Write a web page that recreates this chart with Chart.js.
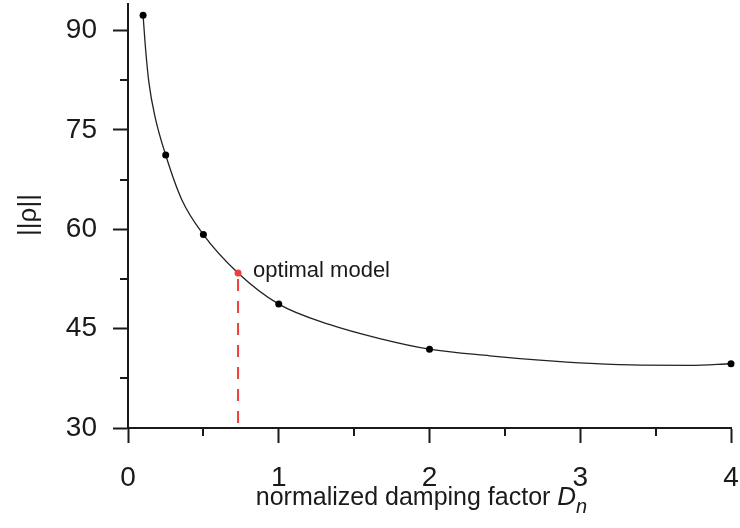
<!DOCTYPE html>
<html>
<head>
<meta charset="utf-8">
<script src="https://cdn.jsdelivr.net/npm/chart.js@4"></script>
<style>
  html, body { margin: 0; padding: 0; background: #fff; }
  canvas { display: block; }
</style>
</head>
<body>
<canvas id="c" width="740" height="528"></canvas>
<script>
// ---- data ----
const sampleX = [0.1, 0.25, 0.5, 1, 2, 4];
const sampleY = [92.3, 71.2, 59.2, 48.7, 41.9, 39.7];
const optimalX = [0.73];
const optimalY = [53.4];
const curveX = [0.1, 0.117, 0.139, 0.179, 0.25, 0.356, 0.5, 0.73, 1.0, 1.34, 1.67, 2.0, 2.4, 2.73, 3.07, 3.4, 3.73, 4.0];
const curveY = [92.3, 87.1, 82.1, 77.0, 71.2, 64.5, 59.2, 53.4, 48.7, 45.6, 43.5, 41.9, 40.9, 40.25, 39.75, 39.48, 39.45, 39.7];
const xTicks = [0, 1, 2, 3, 4];
const yTicks = [30, 45, 60, 75, 90];
const xMinor = [0.5, 1.5, 2.5, 3.5];
const yMinor = [37.5, 52.5, 67.5, 82.5];
const xRange = [0, 4];
const yRange = [30, 94];
const xTitle = 'normalized damping factor ';
const xTitleItalic = 'D';
const xTitleSub = 'n';
const yTitle = '||ρ||';
const annotation = 'optimal model';

const INK = '#1a1a1a';
const RED = '#ee3f3a';
const FONT = '"Liberation Sans", Arial, sans-serif';

const zip = (xs, ys) => xs.map((x, i) => ({ x, y: ys[i] }));

const zeroPad = s => { s.paddingTop = 0; s.paddingBottom = 0; s.paddingLeft = 0; s.paddingRight = 0; };

const extras = {
  id: 'extras',
  afterDraw(chart) {
    const { ctx, chartArea, scales } = chart;
    const xs = scales.x, ys = scales.y;
    ctx.save();
    // minor ticks
    ctx.strokeStyle = INK;
    ctx.lineWidth = 2;
    ctx.beginPath();
    yMinor.forEach(v => {
      const p = Math.round(ys.getPixelForValue(v));
      ctx.moveTo(chartArea.left - 8, p);
      ctx.lineTo(chartArea.left, p);
    });
    xMinor.forEach(v => {
      const p = Math.round(xs.getPixelForValue(v));
      ctx.moveTo(p, chartArea.bottom);
      ctx.lineTo(p, chartArea.bottom + 8);
    });
    ctx.stroke();

    // annotation
    ctx.fillStyle = INK;
    ctx.font = '22px ' + FONT;
    ctx.textAlign = 'left';
    ctx.textBaseline = 'alphabetic';
    const ox = xs.getPixelForValue(optimalX[0]);
    const oy = ys.getPixelForValue(optimalY[0]);
    ctx.fillText(annotation, ox + 15, oy + 4);

    // x title with italic D and subscript n
    const f1 = '25px ' + FONT, f2 = 'italic 26px ' + FONT, f3 = 'italic 20px ' + FONT;
    ctx.font = f1; const w1 = ctx.measureText(xTitle).width;
    ctx.font = f2; const w2 = ctx.measureText(xTitleItalic).width;
    ctx.font = f3; const w3 = ctx.measureText(xTitleSub).width;
    const total = w1 + w2 + w3;
    let tx = (chartArea.left + chartArea.right) / 2 - 8 - total / 2;
    const ty = 505;
    ctx.font = f1; ctx.fillText(xTitle, tx, ty); tx += w1;
    ctx.font = f2; ctx.fillText(xTitleItalic, tx, ty); tx += w2;
    ctx.font = f3; ctx.fillText(xTitleSub, tx, ty + 8);

    // y title rotated
    ctx.translate(29, 215);
    ctx.rotate(-Math.PI / 2);
    ctx.font = '26px ' + FONT;
    ctx.textAlign = 'center';
    ctx.textBaseline = 'middle';
    ctx.fillText(yTitle, 0, 0);
    ctx.restore();
  }
};

new Chart(document.getElementById('c'), {
  type: 'scatter',
  data: {
    datasets: [
      {
        label: 'samples',
        data: zip(sampleX, sampleY),
        showLine: false,
        pointRadius: 3.5,
        pointBackgroundColor: '#000',
        pointBorderWidth: 0,
        order: 0,
        clip: false
      },
      {
        label: 'optimal',
        data: zip(optimalX, optimalY),
        showLine: false,
        pointRadius: 3.5,
        pointBackgroundColor: RED,
        pointBorderWidth: 0,
        order: 0,
        clip: false
      },
      {
        label: 'curve',
        data: zip(curveX, curveY),
        showLine: true,
        pointRadius: 0,
        borderColor: '#222',
        borderWidth: 1.3,
        cubicInterpolationMode: 'monotone',
        order: 2,
        clip: false
      },
      {
        label: 'drop',
        data: [{ x: optimalX[0], y: optimalY[0] }, { x: optimalX[0], y: yRange[0] }],
        showLine: true,
        pointRadius: 0,
        borderColor: RED,
        borderWidth: 2,
        borderDash: [12, 10],
        borderDashOffset: 16,
        order: 1,
        clip: false
      }
    ]
  },
  options: {
    responsive: false,
    animation: false,
    events: [],
    layout: { padding: { top: 4, right: 9, left: 0, bottom: 0 } },
    plugins: { legend: { display: false }, tooltip: { enabled: false } },
    scales: {
      x: {
        type: 'linear',
        min: xRange[0], max: xRange[1],
        afterBuildTicks: s => { s.ticks = xTicks.map(v => ({ value: v })); },
        afterFit: s => { s.height = 100; zeroPad(s); },
        grid: { display: true, drawOnChartArea: false, drawTicks: true, tickLength: 15, tickWidth: 2, tickColor: INK },
        border: { display: true, width: 2, color: INK },
        ticks: { color: INK, font: { family: FONT, size: 28 }, padding: 18, maxRotation: 0 }
      },
      y: {
        type: 'linear',
        min: yRange[0], max: yRange[1],
        afterBuildTicks: s => { s.ticks = yTicks.map(v => ({ value: v })); },
        afterFit: s => { s.width = 128; zeroPad(s); },
        grid: { display: true, drawOnChartArea: false, drawTicks: true, tickLength: 15, tickWidth: 2, tickColor: INK },
        border: { display: true, width: 2, color: INK },
        ticks: { color: INK, font: { family: FONT, size: 28 }, padding: 16 }
      }
    }
  },
  plugins: [extras]
});
</script>
</body>
</html>
